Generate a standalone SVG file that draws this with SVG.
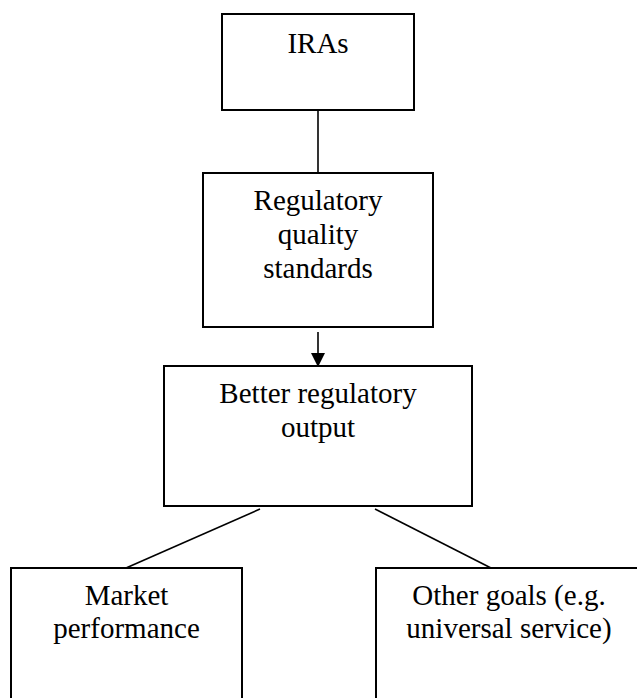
<svg xmlns="http://www.w3.org/2000/svg" width="637" height="698" viewBox="0 0 637 698">
<style>
.box{fill:#fff;stroke:#000;stroke-width:2}
.t{font-family:"Liberation Serif","Times New Roman",serif;font-size:29px;fill:#000;text-anchor:middle}
.c{stroke:#000;stroke-width:1.6;fill:none}
</style>
<defs>
<marker id="ah" markerWidth="14" markerHeight="14" refX="14" refY="7" orient="auto" markerUnits="userSpaceOnUse">
<path d="M0,0 L14,7 L0,14 Z" fill="#000"/>
</marker>
</defs>
<rect width="637" height="698" fill="#fff"/>
<g id="connectors">
<line class="c" x1="318" y1="111" x2="318" y2="173"/>
<line class="c" x1="318" y1="332" x2="318" y2="367" marker-end="url(#ah)"/>
<line class="c" x1="260" y1="509" x2="126" y2="568"/>
<line class="c" x1="375" y1="509" x2="491" y2="568"/>
</g>
<g id="iras">
<rect class="box" x="222" y="14" width="192" height="96"/>
<text class="t" x="318" y="53">IRAs</text>
</g>
<g id="standards">
<rect class="box" x="203" y="173" width="230" height="154"/>
<text class="t" x="318" y="210">Regulatory</text>
<text class="t" x="318" y="244">quality</text>
<text class="t" x="318" y="278">standards</text>
</g>
<g id="output">
<rect class="box" x="164" y="366" width="308" height="140"/>
<text class="t" x="318" y="403">Better regulatory</text>
<text class="t" x="318" y="437">output</text>
</g>
<g id="market">
<rect class="box" x="11" y="568" width="231" height="140"/>
<text class="t" x="126.5" y="605">Market</text>
<text class="t" x="126.5" y="638">performance</text>
</g>
<g id="other">
<rect class="box" x="376" y="568" width="266" height="140"/>
<text class="t" x="509" y="605">Other goals (e.g.</text>
<text class="t" x="509" y="638">universal service)</text>
</g>
</svg>
